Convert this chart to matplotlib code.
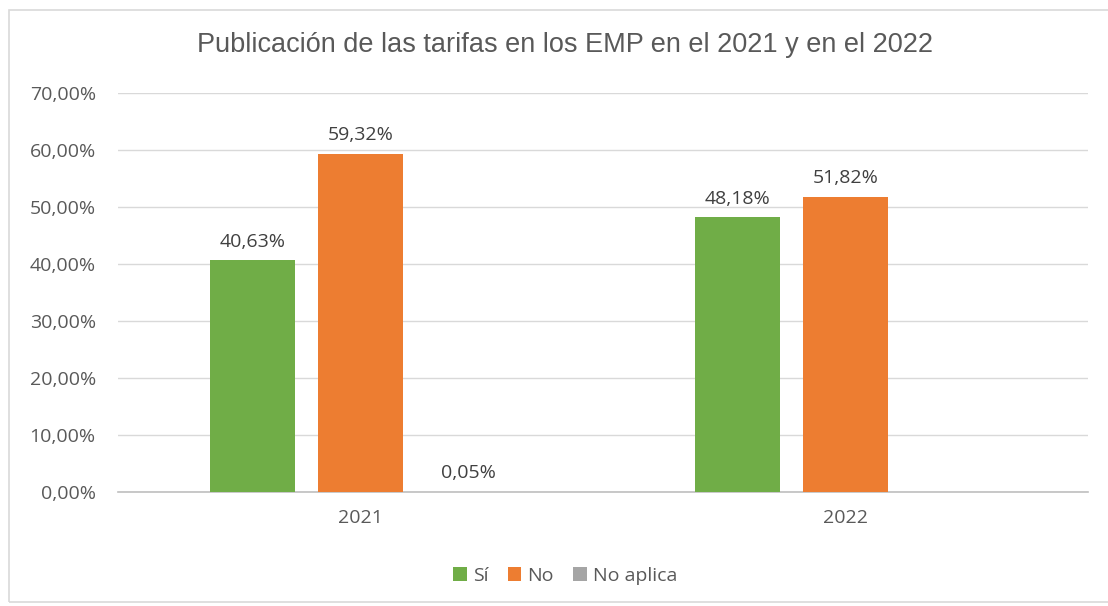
import matplotlib.pyplot as plt
import numpy as np
from matplotlib.patches import Rectangle

# datos
years = ["2021", "2022"]
series = ["Sí", "No", "No aplica"]
values_si = [40.63, 48.18]
values_no = [59.32, 51.82]
values_na = [0.05, None]
colors = ["#70AD47", "#ED7D31", "#A5A5A5"]

plt.rcParams['font.family'] = ['Open Sans', 'DejaVu Sans']

fig = plt.figure(figsize=(11.08, 6.06), dpi=100)
ax = fig.add_axes([0.1065, 0.188, 0.8755, 0.6585])

# marco del gráfico
fig.patches.append(Rectangle((9 / 1108, 4 / 606), 1.2, 592 / 606, transform=fig.transFigure,
                             fill=False, edgecolor="#D9D9D9", linewidth=1.2))

x = np.arange(len(years))
step = 0.2227
width = 0.175
all_vals = [values_si, values_no, values_na]

for i, (name, vals, c) in enumerate(zip(series, all_vals, colors)):
    xs = [xx + (i - 1) * step for xx, v in zip(x, vals) if v is not None]
    ys = [v for v in vals if v is not None]
    bars = ax.bar(xs, ys, width=width, color=c, label=name, zorder=3)
    for b, v in zip(bars, ys):
        ax.annotate(f"{v:.2f}%".replace(".", ","), (b.get_x() + b.get_width() / 2, v),
                    xytext=(0, 7), textcoords="offset points", ha="center", va="bottom",
                    fontsize=14, color="#404040")

ax.set_xlim(-0.5, 1.5)
ax.set_ylim(0, 70)
ax.set_yticks(np.arange(0, 71, 10))
ax.set_yticklabels([f"{t:.2f}%".replace(".", ",") for t in np.arange(0, 71, 10)])
ax.set_xticks(x)
ax.set_xticklabels(years)
ax.tick_params(axis="both", length=0, labelsize=14, labelcolor="#595959")
ax.tick_params(axis="y", pad=16)
ax.tick_params(axis="x", pad=12)

ax.grid(axis="y", color="#D9D9D9", linewidth=1, zorder=0)
for s in ["top", "right", "left"]:
    ax.spines[s].set_visible(False)
ax.spines["bottom"].set_color("#BFBFBF")
ax.spines["bottom"].set_linewidth(1.2)

fig.text(0.51, 0.925, "Publicación de las tarifas en los EMP en el 2021 y en el 2022",
         ha="center", va="center", fontsize=19.5, color="#595959", family="Liberation Sans")

fig.legend(loc="center", bbox_to_anchor=(0.51, 0.05), ncol=3, frameon=False,
           fontsize=14, handlelength=0.7, handleheight=0.7, handletextpad=0.3,
           columnspacing=1.0, labelcolor="#595959")

fig.savefig("out.png", dpi=100)
